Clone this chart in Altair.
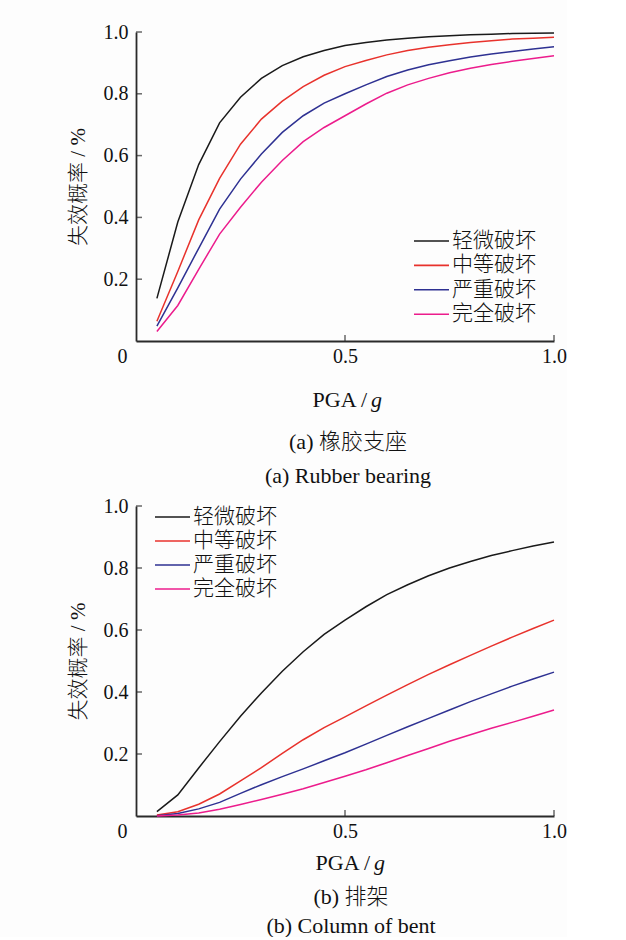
import altair as alt
import pandas as pd

# ---------------- data ----------------
pga = [0.05, 0.10, 0.15, 0.20, 0.25, 0.30, 0.35, 0.40, 0.45, 0.50,
       0.55, 0.60, 0.65, 0.70, 0.75, 0.80, 0.85, 0.90, 0.95, 1.00]
states = ["轻微破坏", "中等破坏", "严重破坏", "完全破坏"]
colors = ["#1a1a1a", "#e8322c", "#2e3192", "#ec1c8c"]

# (a) rubber bearing
top_slight = [0.138, 0.385, 0.571, 0.706, 0.789, 0.850, 0.891, 0.920, 0.940, 0.956,
              0.966, 0.974, 0.980, 0.985, 0.988, 0.991, 0.993, 0.995, 0.996, 0.997]
top_moderate = [0.064, 0.225, 0.392, 0.526, 0.637, 0.718, 0.776, 0.823, 0.860, 0.888,
                0.908, 0.926, 0.940, 0.951, 0.959, 0.966, 0.972, 0.977, 0.980, 0.983]
top_extensive = [0.048, 0.172, 0.300, 0.427, 0.524, 0.605, 0.675, 0.729, 0.770, 0.800,
                 0.829, 0.856, 0.877, 0.894, 0.907, 0.919, 0.929, 0.937, 0.945, 0.952]
top_complete = [0.031, 0.115, 0.232, 0.346, 0.433, 0.514, 0.584, 0.645, 0.691, 0.729,
                0.767, 0.802, 0.829, 0.850, 0.868, 0.883, 0.895, 0.905, 0.914, 0.923]

# (b) column of bent
bot_slight = [0.014, 0.068, 0.155, 0.240, 0.322, 0.397, 0.467, 0.530, 0.586, 0.632,
              0.675, 0.714, 0.746, 0.775, 0.800, 0.821, 0.840, 0.856, 0.871, 0.884]
bot_moderate = [0.003, 0.014, 0.038, 0.071, 0.113, 0.156, 0.202, 0.246, 0.285, 0.320,
                0.355, 0.390, 0.424, 0.457, 0.488, 0.518, 0.548, 0.577, 0.605, 0.632]
bot_extensive = [0.001, 0.008, 0.023, 0.044, 0.073, 0.101, 0.127, 0.152, 0.178, 0.204,
                 0.232, 0.260, 0.288, 0.315, 0.342, 0.369, 0.394, 0.419, 0.442, 0.464]
bot_complete = [0.000, 0.003, 0.010, 0.022, 0.037, 0.053, 0.070, 0.088, 0.108, 0.128,
                0.149, 0.172, 0.195, 0.218, 0.241, 0.262, 0.283, 0.302, 0.322, 0.342]

x_ticks = [0.5, 1.0]
x_label_vals = [0, 0.5, 1.0]
y_ticks = [0.2, 0.4, 0.6, 0.8, 1.0]
y_title = "失效概率 / %"
x_title_main = ["PGA /"]
x_title_var = ["g"]
captions_a = ["(a)  橡胶支座", "(a)  Rubber bearing"]
captions_b = ["(b)  排架", "(b)  Column of bent"]

FONT = "'Liberation Serif', 'Noto Sans CJK SC'"
AX = "#2a2a2a"
TXT = "#111111"
W = 418

AXIS_X = alt.Axis(
    values=x_label_vals,
    labelExpr="datum.value == 0 ? '0' : format(datum.value, '.1f')",
    ticks=False, grid=False, title=None,
    domainColor=AX, domainWidth=1.8,
    labelFont=FONT, labelFontSize=20, labelColor=TXT,
    labelPadding=5, labelFlush=False, labelOverlap=False,
    labelOffset={"condition": {"test": "datum.value === 0", "value": -14}, "value": 0},
)
AXIS_Y = alt.Axis(
    values=y_ticks, format=".1f",
    ticks=False, grid=False, title=y_title,
    titleFont=FONT, titleFontSize=21, titleFontWeight=300, titleColor=TXT,
    titlePadding=15,
    domainColor=AX, domainWidth=1.8,
    labelFont=FONT, labelFontSize=20, labelColor=TXT,
    labelPadding=8, labelFlush=False, labelOverlap=False,
)
COLOR_SCALE = alt.Scale(domain=states, range=colors)


def long_df(vals_list):
    rows = []
    for name, vals in zip(states, vals_list):
        for x, v in zip(pga, vals):
            rows.append({"pga": x, "p": v, "state": name})
    return pd.DataFrame(rows)


def legend_layers(lx, ly0, step):
    layers = []
    for i, s in enumerate(states):
        d = pd.DataFrame({"state": [s]})
        y = ly0 + i * step
        layers.append(
            alt.Chart(d).mark_rule(strokeWidth=1.6).encode(
                x=alt.value(lx), x2=alt.value(lx + 35), y=alt.value(y),
                color=alt.Color("state:N", scale=COLOR_SCALE, legend=None),
            )
        )
        layers.append(
            alt.Chart(d).mark_text(
                align="left", baseline="middle", font=FONT, fontSize=21,
                fontWeight=300, color=TXT
            ).encode(text="state:N", x=alt.value(lx + 38), y=alt.value(y))
        )
    return layers


def panel(vals_list, H, leg, t_dy, caps, cap_dy, cap_x):
    xs = alt.Scale(domain=[0, 1], nice=False, zero=True)
    ys = alt.Scale(domain=[0, 1], nice=False, zero=True)
    df = long_df(vals_list)
    lines = alt.Chart(df).mark_line(strokeWidth=1.5).encode(
        x=alt.X("pga:Q", scale=xs, axis=AXIS_X),
        y=alt.Y("p:Q", scale=ys, axis=AXIS_Y),
        color=alt.Color("state:N", sort=states, scale=COLOR_SCALE, legend=None),
    )
    xt = alt.Chart(pd.DataFrame({"t": x_ticks})).mark_tick(
        orient="vertical", size=6, thickness=1.5, color=AX, yOffset=-3
    ).encode(x=alt.X("t:Q", scale=xs, axis=AXIS_X),
             y=alt.YDatum(0, scale=ys, axis=AXIS_Y))
    yt = alt.Chart(pd.DataFrame({"t": y_ticks})).mark_tick(
        orient="horizontal", size=6, thickness=1.5, color=AX, xOffset=3
    ).encode(y=alt.Y("t:Q", scale=ys, axis=AXIS_Y),
             x=alt.XDatum(0, scale=xs, axis=AXIS_X))

    t1 = alt.Chart(pd.DataFrame({"t": x_title_main})).mark_text(
        font=FONT, fontSize=22, color=TXT, align="right", baseline="middle"
    ).encode(text="t:N", x=alt.value(cap_x + 19), y=alt.value(H + t_dy))
    t2 = alt.Chart(pd.DataFrame({"t": x_title_var})).mark_text(
        font=FONT, fontSize=22, color=TXT, align="left", baseline="middle", fontStyle="italic"
    ).encode(text="t:N", x=alt.value(cap_x + 23), y=alt.value(H + t_dy))
    c1 = alt.Chart(pd.DataFrame({"t": caps[:1]})).mark_text(
        font=FONT, fontSize=22, fontWeight=300, color=TXT, align="center", baseline="middle"
    ).encode(text="t:N", x=alt.value(cap_x), y=alt.value(H + cap_dy[0]))
    c2 = alt.Chart(pd.DataFrame({"t": caps[1:]})).mark_text(
        font=FONT, fontSize=22, color=TXT, align="center", baseline="middle"
    ).encode(text="t:N", x=alt.value(cap_x), y=alt.value(H + cap_dy[1]))

    layers = [lines, xt, yt, t1, t2, c1, c2] + legend_layers(*leg)
    return alt.layer(*layers).properties(width=W, height=H)


top = panel([top_slight, top_moderate, top_extensive, top_complete],
            309, (278, 209, 24.4), 59, captions_a, (101, 135), 212)
bot = panel([bot_slight, bot_moderate, bot_extensive, bot_complete],
            310, (19, 11, 24.0), 47, captions_b, (81, 110), 215)

chart = alt.vconcat(top, bot, spacing=165, bounds="flush").properties(
    padding={"left": 67, "top": 22, "right": 0, "bottom": 0},
    background="#fdfdfd",
).configure_view(stroke=None)

chart.save("out.html", embed_options={"renderer": "svg", "actions": False})
